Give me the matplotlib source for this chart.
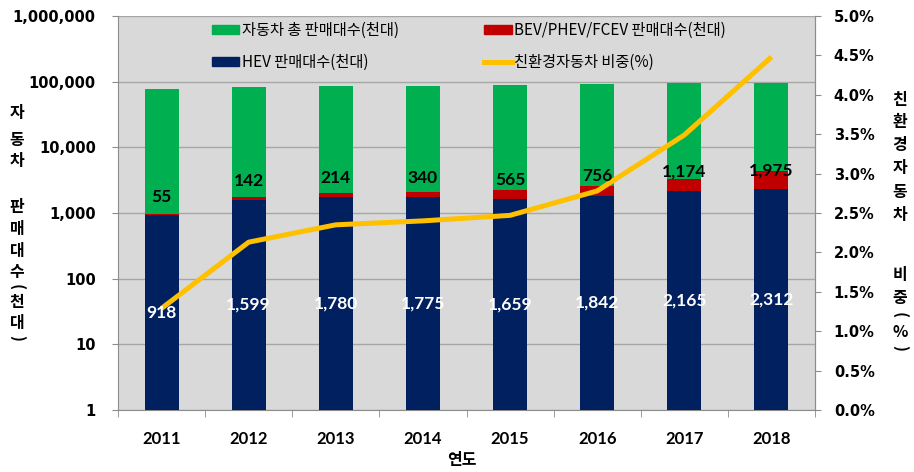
import matplotlib
matplotlib.use("Agg")
import matplotlib.pyplot as plt
from matplotlib.patches import Patch
from matplotlib.lines import Line2D
from matplotlib.ticker import FixedLocator, FuncFormatter
import numpy as np

plt.rcParams["font.family"] = ["Lato", "Noto Sans CJK KR", "DejaVu Sans"]
KR = ["Noto Sans CJK KR", "DejaVu Sans"]

years = ["2011", "2012", "2013", "2014", "2015", "2016", "2017", "2018"]
total_sales = [78000, 82000, 86500, 87000, 90000, 93000, 95000, 95000]   # 천대
hev_sales = [918, 1599, 1780, 1775, 1659, 1842, 2165, 2312]              # 천대
ev_sales = [55, 142, 214, 340, 565, 756, 1174, 1975]                     # 천대
eco_share = [1.29, 2.13, 2.35, 2.40, 2.47, 2.78, 3.49, 4.48]             # %

left_ticks = [1, 10, 100, 1000, 10000, 100000, 1000000]
right_ticks = [0.0, 0.5, 1.0, 1.5, 2.0, 2.5, 3.0, 3.5, 4.0, 4.5, 5.0]

# label offsets (points) above the red segment
ev_label_offset = [12, 12, 11, 10, 7, 7, 5, 1]

GREEN = "#00B050"
NAVY = "#002060"
RED = "#C00000"
YELLOW = "#FFC000"
GRID = "#A6A6A6"
AXIS = "#8C8C8C"

W, H = 914, 472
fig = plt.figure(figsize=(W / 100, H / 100), dpi=100)
ax = fig.add_axes([118 / W, 1 - 410 / H, (815 - 118) / W, (410 - 16) / H])
ax.set_facecolor("#D9D9D9")

x = np.arange(len(years))
hev = np.array(hev_sales, dtype=float)
ev = np.array(ev_sales, dtype=float)
tot = np.array(total_sales, dtype=float)
w = 0.39

ax.bar(x, hev - 1, bottom=1, width=w, color=NAVY, zorder=3)
ax.bar(x, ev, bottom=hev, width=w, color=RED, zorder=3)
ax.bar(x, tot - hev - ev, bottom=hev + ev, width=w, color=GREEN, zorder=3)

ax.set_yscale("log")
ax.set_ylim(1, 1000000)
ax.set_xlim(-0.5, len(years) - 0.5)
ax.yaxis.set_major_locator(FixedLocator(left_ticks))
ax.yaxis.set_minor_locator(FixedLocator([]))
ax.yaxis.set_major_formatter(FuncFormatter(lambda v, p: f"{int(round(v)):,}"))
ax.grid(axis="y", color=GRID, lw=1.0, zorder=1)
ax.set_axisbelow(True)

ax.set_xticks(x)
ax.set_xticklabels(years)
ax.set_xticks(np.arange(-0.5, len(years)), minor=True)
ax.tick_params(axis="x", which="major", length=0, pad=15)
ax.tick_params(axis="x", which="minor", length=5, color=AXIS)
ax.tick_params(axis="y", length=4, color=AXIS, pad=12)
for lab in ax.get_xticklabels():
    lab.set_fontweight("bold")
    lab.set_fontsize(12)
for lab in ax.get_yticklabels():
    lab.set_family("DejaVu Sans")
    lab.set_fontweight("bold")
    lab.set_fontsize(10.5)

ax.spines["top"].set_visible(False)
for s in ["left", "right", "bottom"]:
    ax.spines[s].set_color(AXIS)

ax2 = ax.twinx()
ax2.set_zorder(ax.get_zorder() + 1)
ax2.patch.set_visible(False)
ax2.plot(x, eco_share, color=YELLOW, lw=3.6, solid_capstyle="butt", zorder=4)
ax2.set_ylim(0, 5)
ax2.yaxis.set_major_locator(FixedLocator(right_ticks))
ax2.yaxis.set_major_formatter(FuncFormatter(lambda v, p: f"{v:.1f}%"))
ax2.tick_params(axis="y", length=4.5, color=AXIS, pad=9)
for lab in ax2.get_yticklabels():
    lab.set_family("DejaVu Sans")
    lab.set_fontweight("bold")
    lab.set_fontsize(10.5)
for s in ["top", "left", "bottom"]:
    ax2.spines[s].set_visible(False)
ax2.spines["right"].set_color(AXIS)

# value labels
for i in range(len(years)):
    ax2.text(x[i], np.sqrt(hev[i]), f"{hev_sales[i]:,}", transform=ax.transData,
             ha="center", va="center", color="white", fontsize=12.5,
             fontweight="bold", zorder=6)
    ax2.annotate(f"{ev_sales[i]:,}", xy=(x[i], hev[i] + ev[i]), xycoords=ax.transData,
                 xytext=(0, ev_label_offset[i]), textcoords="offset points",
                 ha="center", va="center", color="black", fontsize=12.5,
                 fontweight="bold", zorder=6)

handles = [
    Patch(color=GREEN), Patch(color=NAVY), Patch(color=RED),
    Line2D([], [], color=YELLOW, lw=3.6),
]
labels = ["자동차 총 판매대수(천대)", "HEV 판매대수(천대)",
          "BEV/PHEV/FCEV 판매대수(천대)", "친환경자동차 비중(%)"]
fig.legend(handles, labels, ncol=2, loc="upper left",
           bbox_to_anchor=(198 / W, 1 - 8 / H), frameon=False,
           handlelength=1.8, handleheight=0.55, handletextpad=0.15,
           labelspacing=1.0, columnspacing=5.6,
           prop={"family": KR, "size": 11})


def vertical_label(xpix, chars, ypix):
    """Stack characters top-to-bottom; brackets are turned sideways."""
    for ch, yp in zip(chars, ypix):
        rot = -90 if ch in "()" else 0
        fig.text(xpix / W, 1 - yp / H, ch, ha="center", va="center",
                 rotation=rot, fontsize=11.5, fontweight="bold", family=KR)


vertical_label(17, list("자동차판매대수(천대)"),
               [113, 140, 161, 207, 229, 251, 272, 287, 302, 323, 338])
vertical_label(900, list("친환경자동차비중(%)"),
               [100, 122, 145, 168, 192, 215, 275, 298, 315, 332, 348])

fig.text(462 / W, 1 - 460 / H, "연도", ha="center", va="center",
         fontsize=11.5, fontweight="bold", family=KR)

fig.savefig("out.png", dpi=100)
